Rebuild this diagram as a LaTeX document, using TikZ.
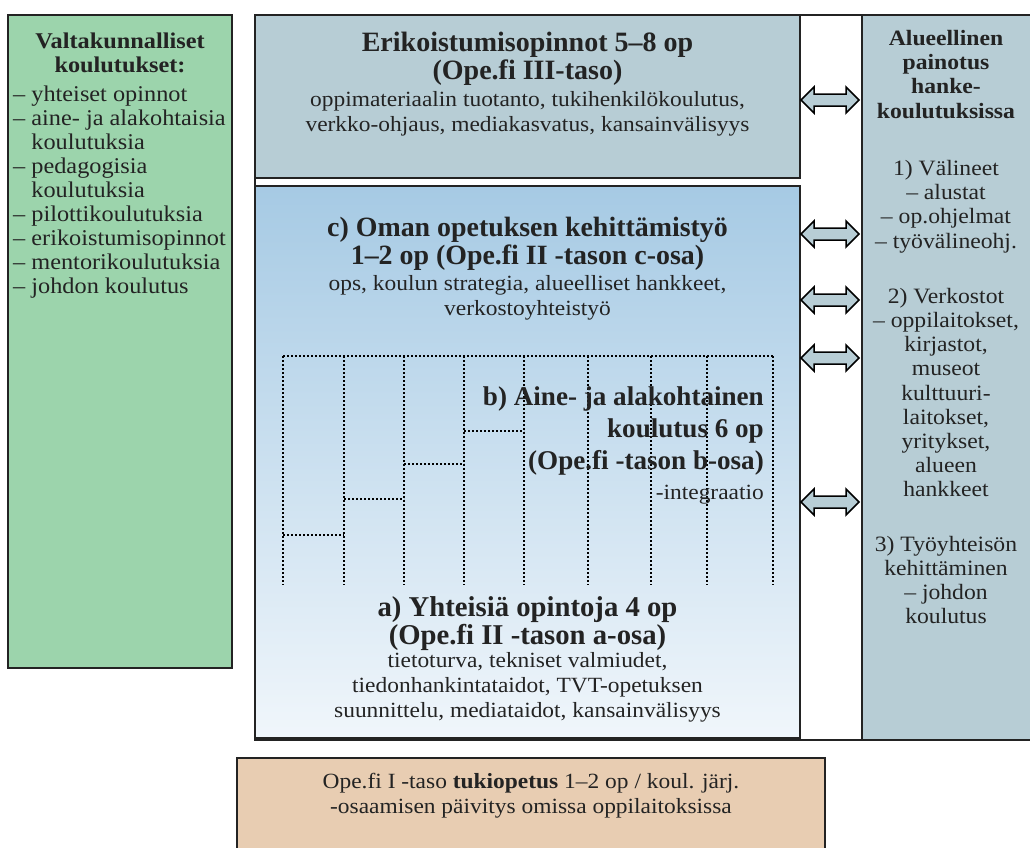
\documentclass[tikz,border=0pt]{standalone}
\usepackage{fontspec}
\setmainfont{Liberation Serif}[FakeStretch=1.08]
\newfontfamily\hdfont{Liberation Serif}
\definecolor{greenc}{RGB}{156,212,172}
\definecolor{grayblue}{RGB}{183,205,213}
\definecolor{midtop}{RGB}{166,202,228}
\definecolor{midbot}{RGB}{240,246,251}
\definecolor{peach}{RGB}{232,205,178}
\definecolor{bordc}{RGB}{35,35,35}
\newcommand\dblarr[1]{\draw[dblarrow] (#1) -- ++(13,-13) -- ++(0,7) -- ++(32,0) -- ++(0,-7) -- ++(13,13) -- ++(-13,13) -- ++(0,-7) -- ++(-32,0) -- ++(0,7) -- cycle;}
\tikzset{
  box/.style={draw=bordc, line width=1.8pt, inner sep=0pt, outer sep=0pt},
  frame/.style={draw=bordc, line width=1.4pt, inner sep=0pt, outer sep=0pt},
  hd/.style={font=\hdfont\fontsize{28}{28}\selectfont\bfseries, align=center, inner sep=0pt, anchor=north, text=bordc},
  bd/.style={font=\fontsize{21.7}{25}\selectfont, align=center, inner sep=0pt, anchor=north, text=bordc},
  sidehd/.style={font=\fontsize{21.9}{24.2}\selectfont\bfseries, align=center, inner sep=0pt, anchor=north, text=bordc},
  sidebd/.style={font=\fontsize{21.9}{24.2}\selectfont, inner sep=0pt, anchor=north, text=bordc},
  greentxt/.style={font=\fontsize{22.5}{24}\selectfont, inner sep=0pt, anchor=north west, align=left, text=bordc},
  dotline/.style={line width=1.8pt, dash pattern=on 1.8pt off 2.2pt, black},
  dblarrow/.style={draw=black, line width=1.5pt, fill=grayblue, line join=miter},
}
\begin{document}
\begin{tikzpicture}[x=1pt,y=-1pt]
\useasboundingbox (0,0) rectangle (1030,847);
\clip (0,0) rectangle (1030,847);
% outer frame
\node[frame, minimum width=607pt, minimum height=725pt] (frame) at (558.5,377.5) {};
% boxes
\node[box, fill=greenc, minimum width=224pt, minimum height=653pt] (nat) at (120,341.5) {};
\node[box, fill=grayblue, minimum width=545pt, minimum height=163pt] (top) at (527.5,96.5) {};
\node[box, top color=midtop, bottom color=midbot, minimum width=545pt, minimum height=552pt] (mid) at (527.5,462) {};
\node[box, fill=grayblue, minimum width=170pt, minimum height=725pt] (reg) at (947,377.5) {};
\node[box, fill=peach, minimum width=588pt, minimum height=112pt] (sup) at (531,814) {};
% green box text
\node[sidehd, font=\fontsize{22.5}{24}\selectfont\bfseries] (natH) at (120,33) {Valtakunnalliset\\koulutukset:};
\node[greentxt] (natL) at (13,86) {%
– yhteiset opinnot\\
– aine- ja alakohtaisia\\
\phantom{– }koulutuksia\\
– pedagogisia\\
\phantom{– }koulutuksia\\
– pilottikoulutuksia\\
– erikoistumisopinnot\\
– mentorikoulutuksia\\
– johdon koulutus};
% top box text
\node[hd] (topH) at (527.5,32) {Erikoistumisopinnot 5–8 op\\(Ope.fi III-taso)};
\node[bd] (topB) at (527.5,91) {oppimateriaalin tuotanto, tukihenkilökoulutus,\\verkko-ohjaus, mediakasvatus, kansainvälisyys};
% c block
\node[hd, font=\hdfont\fontsize{27.9}{28}\selectfont\bfseries] (cH) at (527.5,217) {c) Oman opetuksen kehittämistyö\\1–2 op (Ope.fi II -tason c-osa)};
\node[bd] (cB) at (527.5,275) {ops, koulun strategia, alueelliset hankkeet,\\verkostoyhteistyö};
% dotted structure
\coordinate (d0) at (283,356);
\coordinate (d8) at (773,356);
\draw[dotline] (d0) -- (d8);
\foreach \x in {283,344,404,464,524,588,651,707,773}{\draw[dotline] (\x,356) -- (\x,585);}
\draw[dotline] (283,535) -- (344,535);
\draw[dotline] (344,499) -- (404,499);
\draw[dotline] (404,464) -- (464,464);
\draw[dotline] (464,431) -- (524,431);
% b block
\node[hd, font=\hdfont\fontsize{27.1}{32}\selectfont\bfseries, anchor=north east, align=right] (bH) at (764,386) {b) Aine- ja alakohtainen\\koulutus 6 op\\(Ope.fi -tason b-osa)};
\node[bd, anchor=north east, align=right] (bB) at (764,485) {-integraatio};
% a block
\node[hd, font=\hdfont\fontsize{28.7}{28}\selectfont\bfseries] (aH) at (527.5,596) {a) Yhteisiä opintoja 4 op\\(Ope.fi II -tason a-osa)};
\node[bd] (aB) at (527.5,652) {tietoturva, tekniset valmiudet,\\tiedonhankintataidot, TVT-opetuksen\\suunnittelu, mediataidot, kansainvälisyys};
% right box text
\node[sidehd] (regH) at (946,30) {Alueellinen\\painotus\\hanke-\\koulutuksissa};
\node[sidebd, align=center] (regB) at (946,160) {1) Välineet\\– alustat\\– op.ohjelmat\\– työvälineohj.\\[31pt]
2) Verkostot\\– oppilaitokset,\\kirjastot,\\museot\\kulttuuri-\\laitokset,\\yritykset,\\alueen\\hankkeet\\[30pt]
3) Työyhteisön\\kehittäminen\\– johdon\\koulutus};
% bottom box text
\node[bd] (supT) at (531,773) {Ope.fi I -taso \textbf{tukiopetus} 1–2 op / koul. järj.\\-osaamisen päivitys omissa oppilaitoksissa};
% arrows
\coordinate (a1) at (801,100);
\coordinate (a2) at (801,234);
\coordinate (a3) at (801,300);
\coordinate (a4) at (801,358);
\coordinate (a5) at (801,502);
\dblarr{a1}
\dblarr{a2}
\dblarr{a3}
\dblarr{a4}
\dblarr{a5}
\end{tikzpicture}
\end{document}
